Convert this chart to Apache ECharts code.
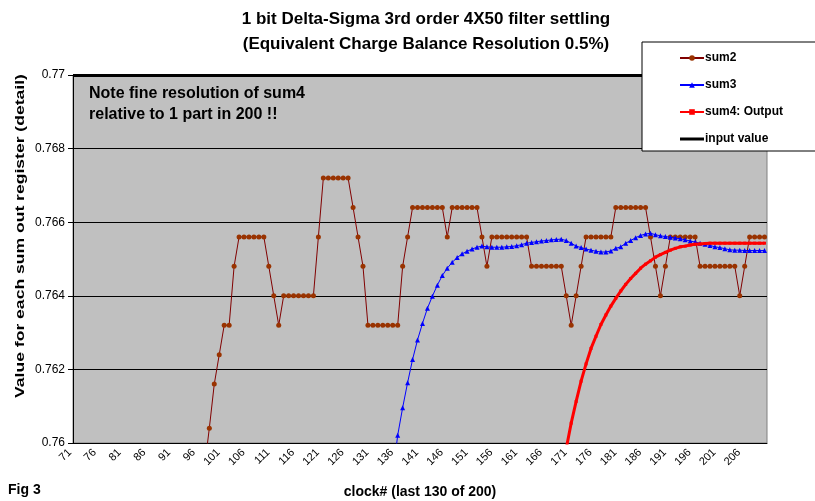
<!DOCTYPE html>
<html>
<head>
<meta charset="utf-8">
<script src="https://cdn.jsdelivr.net/npm/echarts@6/dist/echarts.min.js"></script>
<style>
  html, body { margin: 0; padding: 0; background: #fff; }
  #main { width: 815px; height: 501px; }
</style>
</head>
<body>
<div id="main"></div>
<script>
var chart = echarts.init(document.getElementById("main"));

// clock numbers on the category axis
var firstClock = 71;
var lastClock = 210;
var clocks = [];
for (var c = firstClock; c <= lastClock; c++) {
    clocks.push(String(c));
}

var yTicks = [0.76, 0.762, 0.764, 0.766, 0.768, 0.77];

// sum2 starts at clock 97 (first value is below the visible range)
var sum2Start = 97;
var sum2 = [
    0.7593, 0.7604, 0.7616, 0.7624, 0.7632, 0.7632, 0.7648,
    0.7656, 0.7656, 0.7656, 0.7656, 0.7656, 0.7656,
    0.7648, 0.7640, 0.7632,
    0.7640, 0.7640, 0.7640, 0.7640, 0.7640, 0.7640, 0.7640,
    0.7656,
    0.7672, 0.7672, 0.7672, 0.7672, 0.7672, 0.7672,
    0.7664, 0.7656, 0.7648,
    0.7632, 0.7632, 0.7632, 0.7632, 0.7632, 0.7632, 0.7632,
    0.7648, 0.7656,
    0.7664, 0.7664, 0.7664, 0.7664, 0.7664, 0.7664, 0.7664,
    0.7656,
    0.7664, 0.7664, 0.7664, 0.7664, 0.7664, 0.7664,
    0.7656, 0.7648,
    0.7656, 0.7656, 0.7656, 0.7656, 0.7656, 0.7656, 0.7656, 0.7656,
    0.7648, 0.7648, 0.7648, 0.7648, 0.7648, 0.7648, 0.7648,
    0.7640, 0.7632, 0.7640, 0.7648,
    0.7656, 0.7656, 0.7656, 0.7656, 0.7656, 0.7656,
    0.7664, 0.7664, 0.7664, 0.7664, 0.7664, 0.7664, 0.7664,
    0.7656, 0.7648, 0.7640, 0.7648,
    0.7656, 0.7656, 0.7656, 0.7656, 0.7656, 0.7656,
    0.7648, 0.7648, 0.7648, 0.7648, 0.7648, 0.7648, 0.7648, 0.7648,
    0.7640, 0.7648,
    0.7656, 0.7656, 0.7656, 0.7656
];

// sum3 starts at clock 135
var sum3Start = 135;
var sum3 = [
    0.7591, 0.76021, 0.76096, 0.76164, 0.76227, 0.7628, 0.76325, 0.76366,
    0.76399, 0.76429, 0.76455, 0.76475, 0.76491, 0.76504, 0.76514, 0.76521,
    0.76527, 0.76532, 0.76535,
    0.76533, 0.76532, 0.76532, 0.76532, 0.76533, 0.76534, 0.76536, 0.76539,
    0.76543, 0.76545, 0.76547, 0.76549, 0.7655, 0.76552, 0.76553, 0.76554,
    0.7655, 0.76543, 0.76535, 0.76531, 0.76527, 0.76524, 0.76521, 0.76519,
    0.76519, 0.76522, 0.76529, 0.76533, 0.76543, 0.7655, 0.76558, 0.76564,
    0.76568, 0.7657,
    0.76566, 0.76563, 0.76561, 0.76559, 0.76557, 0.76555, 0.76552, 0.76549,
    0.76546, 0.76543, 0.7654, 0.76537, 0.76533, 0.76531, 0.76528, 0.76525,
    0.76524, 0.76524, 0.76523, 0.76523, 0.76523, 0.76523, 0.76523
];

// sum4 (output) starts at clock 170
var sum4Start = 170;
var sum4 = [
    0.75985, 0.76054, 0.76113, 0.76168, 0.76215, 0.76257, 0.7629, 0.76322,
    0.76348, 0.76372, 0.76393, 0.76413, 0.76431, 0.76447, 0.76461, 0.76475,
    0.76486, 0.76495, 0.76505, 0.76512, 0.76518, 0.76524, 0.76529, 0.76533,
    0.76535, 0.76538, 0.7654, 0.76541, 0.76542,
    0.76543, 0.76543, 0.76543, 0.76543, 0.76543, 0.76543,
    0.76543, 0.76543, 0.76543, 0.76543, 0.76543, 0.76543
];

var inputValue = 0.76545;

function onClocks(values, start) {
    return clocks.map(function (c) {
        var i = Number(c) - start;
        return (i >= 0 && i < values.length) ? values[i] : null;
    });
}

var font = "'Liberation Sans', Arial, sans-serif";

option = {
    animation: false,
    backgroundColor: '#ffffff',
    title: {
        text: '1 bit Delta-Sigma 3rd order 4X50 filter settling\n(Equivalent Charge Balance Resolution 0.5%)',
        left: 421,
        top: 2,
        textAlign: 'center',
        textStyle: {
            fontFamily: font,
            fontSize: 17,
            fontWeight: 'bold',
            color: '#000',
            lineHeight: 25
        }
    },
    grid: {
        left: 73,
        right: 48,
        top: 75,
        bottom: 58,
        outerBoundsMode: 'none',
        show: true,
        backgroundColor: '#c0c0c0',
        borderColor: '#808080',
        borderWidth: 1
    },
    legend: {
        orient: 'vertical',
        left: 674,
        top: 47,
        itemWidth: 24,
        itemHeight: 7,
        itemGap: 15,
        z: 20,
        textStyle: {
            fontFamily: font,
            fontSize: 12,
            fontWeight: 'bold',
            color: '#000',
            padding: [0, 0, 0, -4]
        },
        data: [
            { name: 'sum2' },
            { name: 'sum3' },
            { name: 'sum4: Output' },
            { name: 'input value', icon: 'path://M0,0 L24,0 L24,3 L0,3 Z' }
        ]
    },
    graphic: [
        {
            type: 'rect',
            z: 15,
            shape: { x: 642, y: 42, width: 180, height: 109 },
            style: { fill: '#ffffff', stroke: '#000000', lineWidth: 1 }
        },
        {
            type: 'text',
            left: 89,
            top: 83,
            z: 15,
            style: {
                text: 'Note fine resolution of sum4\nrelative to 1 part in 200 !!',
                font: 'bold 16px ' + font,
                lineHeight: 21,
                fill: '#000'
            }
        },
        {
            // y axis title, stretched along its length like the original
            type: 'text',
            x: 20,
            y: 236,
            rotation: Math.PI / 2,
            scaleX: 1.35,
            style: {
                text: 'Value for each sum out register (detail)',
                font: 'bold 13px ' + font,
                fill: '#000',
                align: 'center',
                verticalAlign: 'middle'
            }
        },
        {
            type: 'text',
            left: 8,
            top: 483,
            style: {
                text: 'Fig 3',
                font: 'bold 14px ' + font,
                fill: '#000'
            }
        }
    ],
    xAxis: {
        type: 'category',
        data: clocks,
        boundaryGap: true,
        name: 'clock# (last 130 of 200)',
        nameLocation: 'middle',
        nameGap: 42,
        nameTextStyle: {
            fontFamily: font,
            fontSize: 14,
            fontWeight: 'bold',
            color: '#000'
        },
        axisLine: { lineStyle: { color: '#000', width: 1 } },
        axisTick: { interval: 0, length: 4, lineStyle: { color: '#000' } },
        axisLabel: {
            interval: 4,
            rotate: 45,
            fontFamily: font,
            fontSize: 11,
            color: '#000',
            margin: 2,
            padding: [0, 8, 0, 0]
        },
        splitLine: { show: false }
    },
    yAxis: {
        type: 'value',
        min: yTicks[0],
        max: yTicks[yTicks.length - 1],
        interval: 0.002,
        axisLine: { show: true, lineStyle: { color: '#000', width: 1 } },
        axisTick: { show: true, length: 5, lineStyle: { color: '#000' } },
        axisLabel: {
            fontFamily: font,
            fontSize: 12,
            color: '#000',
            margin: 8,
            formatter: function (v) { return String(Number(v.toFixed(4))); }
        },
        splitLine: { show: true, lineStyle: { color: '#000', width: 1 } }
    },
    series: [
        {
            name: 'sum2',
            type: 'line',
            data: onClocks(sum2, sum2Start),
            symbol: 'circle',
            symbolSize: 5,
            showSymbol: true,
            showAllSymbol: true,
            lineStyle: { color: '#800000', width: 1 },
            itemStyle: { color: '#993300' },
            z: 3
        },
        {
            name: 'sum3',
            type: 'line',
            data: onClocks(sum3, sum3Start),
            symbol: 'triangle',
            symbolSize: 5,
            showSymbol: true,
            showAllSymbol: true,
            lineStyle: { color: '#0000ff', width: 1 },
            itemStyle: { color: '#0000ff' },
            z: 4
        },
        {
            name: 'sum4: Output',
            type: 'line',
            data: onClocks(sum4, sum4Start),
            symbol: 'rect',
            symbolSize: 3,
            showSymbol: true,
            showAllSymbol: true,
            lineStyle: { color: '#ff0000', width: 3 },
            itemStyle: { color: '#ff0000' },
            z: 5
        },
        {
            name: 'input value',
            type: 'line',
            data: [],
            symbol: 'none',
            lineStyle: { color: '#000000', width: 3 },
            itemStyle: { color: '#000000' },
            z: 2,
            markLine: {
                silent: true,
                symbol: ['none', 'none'],
                label: { show: false },
                lineStyle: { color: '#000000', width: 3, type: 'solid' },
                data: [{ yAxis: inputValue }]
            }
        }
    ]
};

chart.setOption(option);
</script>
</body>
</html>
